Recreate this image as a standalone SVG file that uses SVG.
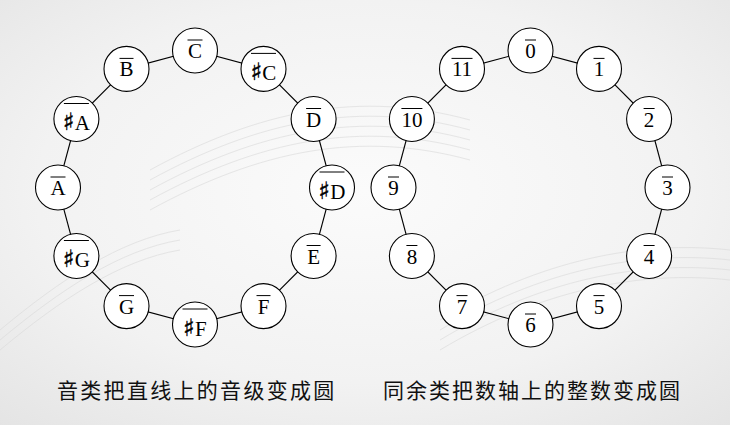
<svg xmlns="http://www.w3.org/2000/svg" width="730" height="425" viewBox="0 0 730 425">
<defs>
<radialGradient id="bg" cx="50%" cy="45%" r="75%">
<stop offset="0" stop-color="#fbfbfb"/>
<stop offset="0.6" stop-color="#f2f2f2"/>
<stop offset="1" stop-color="#e4e4e4"/>
</radialGradient>
<style>
.n circle{fill:#fff;stroke:#000;stroke-width:1.1}
.n text{font-family:"Liberation Serif","DejaVu Serif",serif;font-size:21px;text-anchor:middle;fill:#000}
.n tspan.s{font-family:"DejaVu Sans",sans-serif;font-size:24px;font-weight:bold;fill:#000;stroke:#000;stroke-width:0.4}
.n line{stroke:#000;stroke-width:1}
.e line{stroke:#000;stroke-width:1.1}
.cap{font-family:"Noto Sans CJK SC",sans-serif;font-size:21px;fill:#111}
.deco{fill:none;stroke:#dadada;stroke-width:1}
</style>
</defs>
<rect width="730" height="425" fill="url(#bg)"/>
<g class="deco" opacity="0.6">
<path d="M150,170 C260,110 360,90 470,120"/>
<path d="M150,180 C260,120 360,100 470,130"/>
<path d="M150,190 C260,130 360,110 470,140"/>
<path d="M150,200 C260,140 360,120 470,150"/>
<path d="M150,210 C260,150 360,130 470,160"/>
<path d="M440,320 C540,260 640,240 730,250"/>
<path d="M440,330 C540,270 640,250 730,260"/>
<path d="M440,340 C540,280 640,260 730,270"/>
<path d="M440,350 C540,290 640,270 730,280"/>
<path d="M0,330 C60,280 120,240 180,230"/>
<path d="M0,340 C60,290 120,250 180,240"/>
<path d="M0,350 C60,300 120,260 180,250"/>
</g>
<g id="connectors" class="e">
<line x1="195" y1="50.5" x2="263.5" y2="68.9"/>
<line x1="263.5" y1="68.9" x2="313.6" y2="119"/>
<line x1="313.6" y1="119" x2="332" y2="187.5"/>
<line x1="332" y1="187.5" x2="313.6" y2="256"/>
<line x1="313.6" y1="256" x2="263.5" y2="306.1"/>
<line x1="263.5" y1="306.1" x2="195" y2="324.5"/>
<line x1="195" y1="324.5" x2="126.5" y2="306.1"/>
<line x1="126.5" y1="306.1" x2="76.4" y2="256"/>
<line x1="76.4" y1="256" x2="58" y2="187.5"/>
<line x1="58" y1="187.5" x2="76.4" y2="119"/>
<line x1="76.4" y1="119" x2="126.5" y2="68.9"/>
<line x1="126.5" y1="68.9" x2="195" y2="50.5"/>
<line x1="530.5" y1="50.5" x2="599" y2="68.9"/>
<line x1="599" y1="68.9" x2="649.1" y2="119"/>
<line x1="649.1" y1="119" x2="667.5" y2="187.5"/>
<line x1="667.5" y1="187.5" x2="649.1" y2="256"/>
<line x1="649.1" y1="256" x2="599" y2="306.1"/>
<line x1="599" y1="306.1" x2="530.5" y2="324.5"/>
<line x1="530.5" y1="324.5" x2="462" y2="306.1"/>
<line x1="462" y1="306.1" x2="411.9" y2="256"/>
<line x1="411.9" y1="256" x2="393.5" y2="187.5"/>
<line x1="393.5" y1="187.5" x2="411.9" y2="119"/>
<line x1="411.9" y1="119" x2="462" y2="68.9"/>
<line x1="462" y1="68.9" x2="530.5" y2="50.5"/>
</g>
<g id="nC" class="n"><circle cx="195" cy="50.5" r="22.5"/><line x1="187.5" y1="40" x2="202.5" y2="40"/><text x="195" y="58">C</text></g>
<g id="nCs" class="n"><circle cx="263.5" cy="68.9" r="22.5"/><line x1="251" y1="53.4" x2="276" y2="53.4"/><text x="263.5" y="80"><tspan class="s">♯</tspan>C</text></g>
<g id="nD" class="n"><circle cx="313.6" cy="119" r="22.5"/><line x1="306.1" y1="108.5" x2="321.1" y2="108.5"/><text x="313.6" y="126.5">D</text></g>
<g id="nDs" class="n"><circle cx="332" cy="187.5" r="22.5"/><line x1="319.5" y1="172" x2="344.5" y2="172"/><text x="332" y="198.5"><tspan class="s">♯</tspan>D</text></g>
<g id="nE" class="n"><circle cx="313.6" cy="256" r="22.5"/><line x1="306.6" y1="245.5" x2="320.6" y2="245.5"/><text x="313.6" y="263.5">E</text></g>
<g id="nF" class="n"><circle cx="263.5" cy="306.1" r="22.5"/><line x1="256.5" y1="295.6" x2="270.5" y2="295.6"/><text x="263.5" y="313.6">F</text></g>
<g id="nFs" class="n"><circle cx="195" cy="324.5" r="22.5"/><line x1="182.5" y1="309" x2="207.5" y2="309"/><text x="195" y="335.5"><tspan class="s">♯</tspan>F</text></g>
<g id="nG" class="n"><circle cx="126.5" cy="306.1" r="22.5"/><line x1="119" y1="295.6" x2="134" y2="295.6"/><text x="126.5" y="313.6">G</text></g>
<g id="nGs" class="n"><circle cx="76.4" cy="256" r="22.5"/><line x1="63.9" y1="240.5" x2="88.9" y2="240.5"/><text x="76.4" y="267"><tspan class="s">♯</tspan>G</text></g>
<g id="nA" class="n"><circle cx="58" cy="187.5" r="22.5"/><line x1="50.5" y1="177" x2="65.5" y2="177"/><text x="58" y="195">A</text></g>
<g id="nAs" class="n"><circle cx="76.4" cy="119" r="22.5"/><line x1="63.9" y1="103.5" x2="88.9" y2="103.5"/><text x="76.4" y="130"><tspan class="s">♯</tspan>A</text></g>
<g id="nB" class="n"><circle cx="126.5" cy="68.9" r="22.5"/><line x1="119.5" y1="58.4" x2="133.5" y2="58.4"/><text x="126.5" y="76.4">B</text></g>
<g id="n0" class="n"><circle cx="530.5" cy="50.5" r="22.5"/><line x1="525" y1="40" x2="536" y2="40"/><text x="530.5" y="58">0</text></g>
<g id="n1" class="n"><circle cx="599" cy="68.9" r="22.5"/><line x1="593.5" y1="58.4" x2="604.5" y2="58.4"/><text x="599" y="76.4">1</text></g>
<g id="n2" class="n"><circle cx="649.1" cy="119" r="22.5"/><line x1="643.6" y1="108.5" x2="654.6" y2="108.5"/><text x="649.1" y="126.5">2</text></g>
<g id="n3" class="n"><circle cx="667.5" cy="187.5" r="22.5"/><line x1="662" y1="177" x2="673" y2="177"/><text x="667.5" y="195">3</text></g>
<g id="n4" class="n"><circle cx="649.1" cy="256" r="22.5"/><line x1="643.6" y1="245.5" x2="654.6" y2="245.5"/><text x="649.1" y="263.5">4</text></g>
<g id="n5" class="n"><circle cx="599" cy="306.1" r="22.5"/><line x1="593.5" y1="295.6" x2="604.5" y2="295.6"/><text x="599" y="313.6">5</text></g>
<g id="n6" class="n"><circle cx="530.5" cy="324.5" r="22.5"/><line x1="525" y1="314" x2="536" y2="314"/><text x="530.5" y="332">6</text></g>
<g id="n7" class="n"><circle cx="462" cy="306.1" r="22.5"/><line x1="456.5" y1="295.6" x2="467.5" y2="295.6"/><text x="462" y="313.6">7</text></g>
<g id="n8" class="n"><circle cx="411.9" cy="256" r="22.5"/><line x1="406.4" y1="245.5" x2="417.4" y2="245.5"/><text x="411.9" y="263.5">8</text></g>
<g id="n9" class="n"><circle cx="393.5" cy="187.5" r="22.5"/><line x1="388" y1="177" x2="399" y2="177"/><text x="393.5" y="195">9</text></g>
<g id="n10" class="n"><circle cx="411.9" cy="119" r="22.5"/><line x1="401.4" y1="108.5" x2="422.4" y2="108.5"/><text x="411.9" y="126.5">10</text></g>
<g id="n11" class="n"><circle cx="462" cy="68.9" r="22.5"/><line x1="451.5" y1="58.4" x2="472.5" y2="58.4"/><text x="462" y="76.4">11</text></g>
<g id="captions">
<text class="cap" x="57" y="398" letter-spacing="2.3">音类把直线上的音级变成圆</text>
<text class="cap" x="383" y="398" letter-spacing="2">同余类把数轴上的整数变成圆</text>
</g>
</svg>
